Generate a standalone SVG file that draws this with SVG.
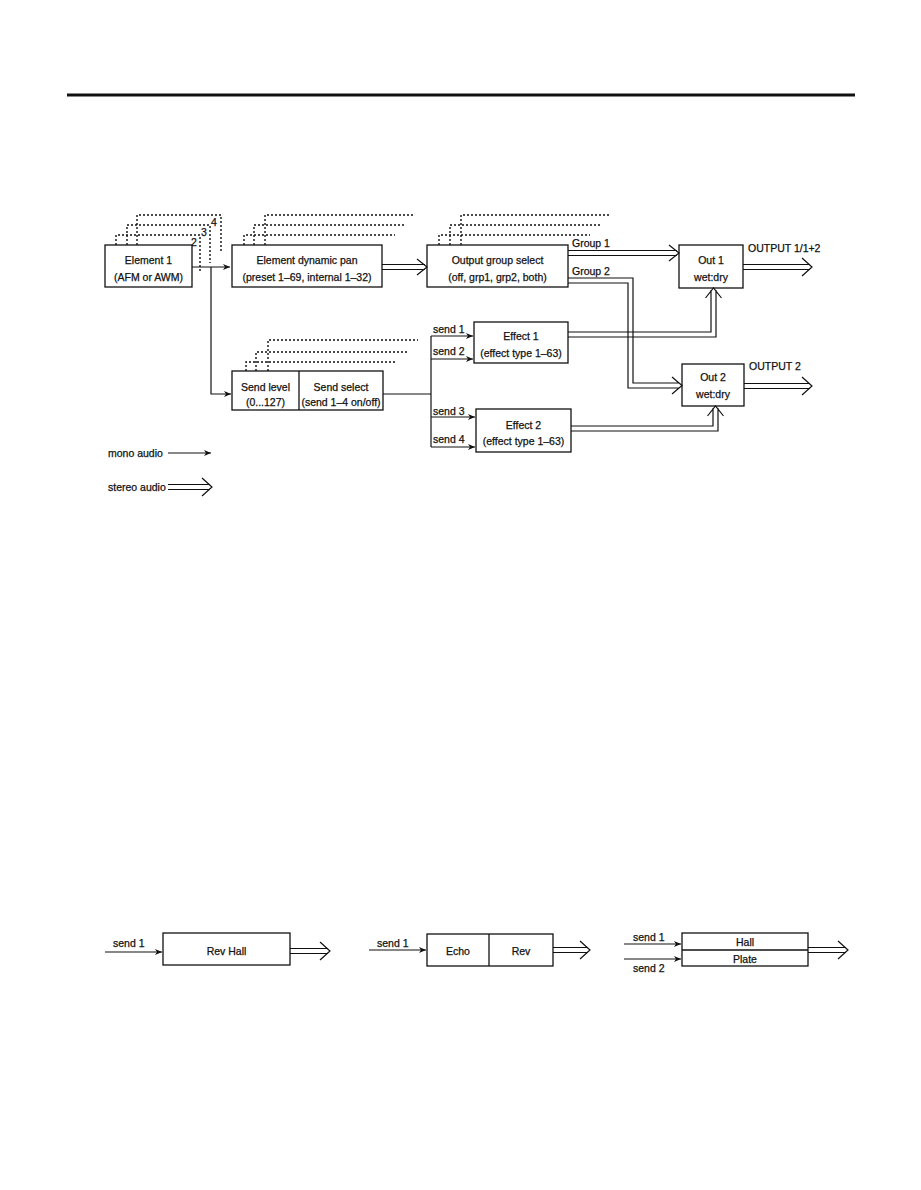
<svg xmlns="http://www.w3.org/2000/svg" width="921" height="1190" viewBox="0 0 921 1190">
<defs>
<marker id="mono" markerWidth="8" markerHeight="8" refX="7" refY="4" orient="auto" markerUnits="userSpaceOnUse">
<path d="M0,1 L7,4 L0,7 L2,4 Z" fill="#111"/>
</marker>
</defs>
<style>
.box{fill:#fff;stroke:#111;stroke-width:1.3}
.t{font-family:"Liberation Sans",Arial,sans-serif;font-size:10.5px;fill:#111;stroke:#111;stroke-width:0.25;text-anchor:middle}
.l{font-family:"Liberation Sans",Arial,sans-serif;font-size:10.5px;fill:#111;stroke:#111;stroke-width:0.25}
.dot{fill:none;stroke:#111;stroke-width:1.4;stroke-dasharray:2,2}
.m{fill:none;stroke:#111;stroke-width:1.2}
.s{fill:none;stroke:#111;stroke-width:1.2}
</style>
<rect width="921" height="1190" fill="#fff"/>
<line x1="67" y1="95" x2="855" y2="95" stroke="#111" stroke-width="3"/>

<g id="element1">
<path class="dot" d="M137,245 V215 H221 V253"/>
<path class="dot" d="M127,245 V225 H210 V263"/>
<path class="dot" d="M116,245 V235 H200 V273"/>
<text class="l" x="211" y="226">4</text>
<text class="l" x="201" y="236">3</text>
<text class="l" x="191" y="246">2</text>
<rect class="box" x="105" y="245" width="87" height="42"/>
<text class="t" x="148.5" y="264">Element 1</text>
<text class="t" x="148.5" y="281">(AFM or AWM)</text>
</g>

<g id="edp">
<path class="dot" d="M265,245 V215 H415"/>
<path class="dot" d="M254,245 V225 H405"/>
<path class="dot" d="M244,245 V235 H395"/>
<rect class="box" x="232" y="245" width="150" height="42"/>
<text class="t" x="307" y="264">Element dynamic pan</text>
<text class="t" x="307" y="281">(preset 1–69, internal 1–32)</text>
</g>

<g id="ogs">
<path class="dot" d="M461,245 V215 H611"/>
<path class="dot" d="M450,245 V225 H600"/>
<path class="dot" d="M439,245 V235 H590"/>
<rect class="box" x="427" y="245" width="141" height="42"/>
<text class="t" x="497.5" y="264">Output group select</text>
<text class="t" x="497.5" y="281">(off, grp1, grp2, both)</text>
</g>

<g id="sendlevel">
<path class="dot" d="M268,371 V340 H418"/>
<path class="dot" d="M256,371 V352 H407"/>
<path class="dot" d="M246,371 V362 H397"/>
<rect class="box" x="232" y="371" width="151" height="39"/>
<line x1="299" y1="371" x2="299" y2="410" stroke="#111" stroke-width="1.3"/>
<text class="t" x="265.5" y="391">Send level</text>
<text class="t" x="265.5" y="406">(0...127)</text>
<text class="t" x="341" y="391">Send select</text>
<text class="t" x="341" y="406">(send 1–4 on/off)</text>
</g>

<g id="effect1">
<rect class="box" x="474" y="322" width="94" height="41"/>
<text class="t" x="521" y="340">Effect 1</text>
<text class="t" x="521" y="357">(effect type 1–63)</text>
</g>

<g id="effect2">
<rect class="box" x="476" y="409" width="95" height="43"/>
<text class="t" x="523.5" y="429">Effect 2</text>
<text class="t" x="523.5" y="445">(effect type 1–63)</text>
</g>

<g id="out1">
<rect class="box" x="679" y="245" width="64" height="43"/>
<text class="t" x="711" y="264">Out 1</text>
<text class="t" x="711" y="281">wet:dry</text>
</g>

<g id="out2">
<rect class="box" x="682" y="364" width="62" height="42"/>
<text class="t" x="713" y="381">Out 2</text>
<text class="t" x="713" y="398">wet:dry</text>
</g>

<g id="connectors">
<path class="m" d="M192,267 H230" marker-end="url(#mono)"/>
<path class="m" d="M211,267 V394 H231" marker-end="url(#mono)"/>
<path class="m" d="M383,394 H431"/>
<path class="m" d="M431,336 V447"/>
<path class="m" d="M431,336 H473" marker-end="url(#mono)"/>
<path class="m" d="M431,359 H473" marker-end="url(#mono)"/>
<path class="m" d="M431,417 H475" marker-end="url(#mono)"/>
<path class="m" d="M431,447 H475" marker-end="url(#mono)"/>
<text class="l" x="433" y="333">send 1</text>
<text class="l" x="433" y="355">send 2</text>
<text class="l" x="433" y="415">send 3</text>
<text class="l" x="433" y="443">send 4</text>

<path class="s" d="M382,264.5 H425 M382,269.5 H425 M417,259 L427,267 L417,275"/>
<path class="s" d="M568,250.5 H677 M568,255.5 H677 M669,245 L679,253 L669,261"/>
<text class="l" x="572" y="247">Group 1</text>
<path class="s" d="M568,278 H633 V383 H679 M568,283 H628 V388 H679 M672,377 L682,385.5 L672,394"/>
<text class="l" x="572" y="275">Group 2</text>
<path class="s" d="M568,332 H711 V290 M568,337 H716 V290 M705.5,298 L713.5,288 L721.5,298"/>
<path class="s" d="M571,426 H713 V408 M571,431 H718 V408 M707.5,416 L715.5,406 L723.5,416"/>
<path class="s" d="M743,264.5 H810 M743,269.5 H810 M802,258 L812,267 L802,276"/>
<text class="l" x="748" y="252">OUTPUT 1/1+2</text>
<path class="s" d="M744,383.5 H810 M744,388.5 H810 M802,377 L812,386 L802,395"/>
<text class="l" x="749" y="370">OUTPUT 2</text>
</g>

<g id="legend">
<text class="l" x="108" y="457">mono audio</text>
<path class="m" d="M168,453 H211" marker-end="url(#mono)"/>
<text class="l" x="108" y="491">stereo audio</text>
<path class="s" d="M168,484.5 H210 M168,489.5 H210 M202,478 L212,487 L202,496"/>
</g>

<g id="revhall">
<text class="l" x="113" y="947">send 1</text>
<path class="m" d="M105,952 H162" marker-end="url(#mono)"/>
<rect class="box" x="163" y="933" width="127" height="32"/>
<text class="t" x="226.5" y="955">Rev Hall</text>
<path class="s" d="M290,948.5 H328 M290,953.5 H328 M320,942 L330,951 L320,960"/>
</g>

<g id="echorev">
<text class="l" x="377" y="947">send 1</text>
<path class="m" d="M369,950 H426" marker-end="url(#mono)"/>
<rect class="box" x="427" y="934" width="126" height="32"/>
<line x1="489" y1="934" x2="489" y2="966" stroke="#111" stroke-width="1.3"/>
<text class="t" x="458" y="955">Echo</text>
<text class="t" x="521" y="955">Rev</text>
<path class="s" d="M553,947.5 H588 M553,952.5 H588 M580,941 L590,950 L580,959"/>
</g>

<g id="hallplate">
<text class="l" x="633" y="941">send 1</text>
<path class="m" d="M624,944 H681" marker-end="url(#mono)"/>
<text class="l" x="633" y="972">send 2</text>
<path class="m" d="M624,959 H681" marker-end="url(#mono)"/>
<rect class="box" x="682" y="933" width="126" height="33"/>
<line x1="682" y1="950" x2="808" y2="950" stroke="#111" stroke-width="1.3"/>
<text class="t" x="745" y="946">Hall</text>
<text class="t" x="745" y="963">Plate</text>
<path class="s" d="M808,947.5 H846 M808,952.5 H846 M838,941 L848,950 L838,959"/>
</g>
</svg>
